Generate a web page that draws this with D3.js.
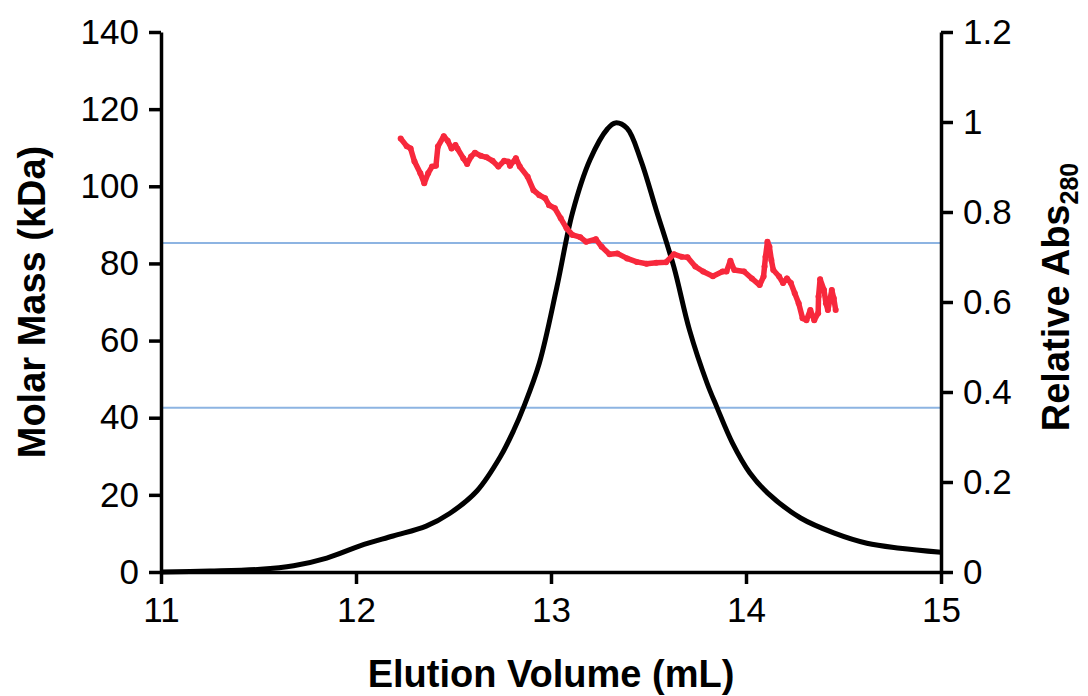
<!DOCTYPE html>
<meta charset="utf-8">
<script src="https://d3js.org/d3.v7.min.js"></script>
<style>
  body { margin: 0; background: #fff; }
  text { font-family: Arial, "Liberation Sans", sans-serif; fill: #000; }
</style>
<div id="chart"></div>
<script>

// elution volume (mL) vs relative Abs280
var absVolume = [11, 11.25, 11.51, 11.68, 11.85, 12.02, 12.19, 12.36, 12.48, 12.62, 12.74, 12.81, 12.86, 12.94,
                 13.03, 13.11, 13.20, 13.29, 13.33, 13.39, 13.46, 13.54, 13.63, 13.71, 13.80, 13.85, 13.93,
                 14.02, 14.11, 14.28, 14.45, 14.62, 14.79, 15.0];
var absValue  = [0, 0.002, 0.006, 0.014, 0.031, 0.058, 0.080, 0.102, 0.13, 0.18, 0.256, 0.316, 0.367, 0.464,
                 0.633, 0.798, 0.916, 0.985, 0.998, 0.986, 0.916, 0.804, 0.678, 0.538, 0.42, 0.367, 0.287,
                 0.22, 0.176, 0.12, 0.087, 0.064, 0.053, 0.044];

// molar mass (kDa) points
var massVolume = [12.229, 12.26, 12.28, 12.30, 12.33, 12.35, 12.37, 12.39, 12.41, 12.42, 12.45, 12.47, 12.49,
                  12.51, 12.52, 12.55, 12.57, 12.59, 12.61, 12.64, 12.67, 12.70, 12.73, 12.76, 12.78, 12.79,
                  12.82, 12.84, 12.88, 12.91, 12.94, 12.97, 12.99, 13.02, 13.05, 13.08, 13.11, 13.15, 13.18,
                  13.23, 13.26, 13.30, 13.34, 13.39, 13.44, 13.49, 13.54, 13.59, 13.63, 13.67, 13.70, 13.74,
                  13.78, 13.83, 13.88, 13.90, 13.92, 13.94, 13.99, 14.03, 14.07, 14.09, 14.095, 14.10, 14.11,
                  14.12, 14.13, 14.14, 14.17, 14.19, 14.21, 14.23, 14.25, 14.27, 14.29, 14.31, 14.33, 14.35,
                  14.37, 14.372, 14.38, 14.40, 14.41, 14.42, 14.43, 14.44, 14.45, 14.46];
var massValue  = [112.4, 110.4, 109.8, 106.4, 103.4, 100.8, 103.4, 105.1, 105.3, 110.3, 113.0, 111.8, 109.8,
                  110.7, 109.8, 107.3, 105.8, 107.7, 108.7, 107.9, 107.5, 106.6, 105.1, 106.6, 106.4, 105.3,
                  107.3, 105.1, 102.5, 99.0, 97.7, 96.9, 95.1, 94.3, 91.7, 89.1, 87.4, 86.8, 85.6,
                  86.3, 84.3, 82.4, 82.6, 81.3, 80.4, 79.9, 80.2, 80.3, 82.4, 81.7, 81.6, 79.2,
                  77.9, 76.7, 77.9, 77.9, 80.7, 78.3, 77.9, 76.1, 74.4, 76.6, 79.2, 81.7, 85.6,
                  84.3, 80.9, 78.3, 76.6, 74.9, 76.1, 74.9, 72.3, 69.7, 65.8, 65.3, 67.9, 65.3,
                  67.1, 71.4, 75.9, 73.1, 69.7, 67.9, 70.5, 73.1, 71.0, 67.9];

// reference masses (kDa) drawn as horizontal lines
var refMasses = [85.3, 42.6];

var xTicks = [11, 12, 13, 14, 15];
var leftTicks = [0, 20, 40, 60, 80, 100, 120, 140];
var rightTicks = [0, 0.2, 0.4, 0.6, 0.8, 1, 1.2];

var W = 1088, H = 696;
var margin = {top: 32, right: 147, bottom: 124, left: 161};
var width = W - margin.left - margin.right,
    height = H - margin.top - margin.bottom;

var svg = d3.select("#chart").append("svg")
    .attr("width", W).attr("height", H)
  .append("g")
    .attr("transform", "translate(" + margin.left + "," + margin.top + ")");

var x = d3.scaleLinear().domain([11, 15]).range([0, width]);
var yL = d3.scaleLinear().domain([0, 140]).range([height, 0]);
var yR = d3.scaleLinear().domain([0, 1.2]).range([height, 0]);

// reference lines
svg.selectAll(".ref")
  .data(refMasses)
  .enter().append("line")
    .attr("x1", 0).attr("x2", width)
    .attr("y1", function(d) { return yL(d); })
    .attr("y2", function(d) { return yL(d); })
    .style("stroke", "#8db4e2")
    .style("stroke-width", 2);

// absorbance trace
var absData = absVolume.map(function(v, i) { return [v, absValue[i]]; });
svg.append("path")
  .datum(absData)
  .attr("fill", "none")
  .attr("stroke", "#000")
  .attr("stroke-width", 5)
  .attr("d", d3.line()
    .curve(d3.curveCatmullRom.alpha(0.5))
    .x(function(d) { return x(d[0]); })
    .y(function(d) { return yR(d[1]); }));

// molar mass points
var massData = massVolume.map(function(v, i) { return [v, massValue[i]]; });
svg.append("path")
  .datum(massData)
  .attr("fill", "none")
  .attr("stroke", "#f7283c")
  .attr("stroke-width", 5.5)
  .attr("stroke-linejoin", "round")
  .attr("d", d3.line()
    .x(function(d) { return x(d[0]); })
    .y(function(d) { return yL(d[1]); }));
svg.selectAll(".dot")
  .data(massData)
  .enter().append("circle")
    .attr("cx", function(d) { return x(d[0]); })
    .attr("cy", function(d) { return yL(d[1]); })
    .attr("r", 3)
    .style("fill", "#f7283c");

// axes
function styleAxis(g) {
  g.select(".domain").attr("stroke-width", 3.5);
  g.selectAll(".tick line").attr("stroke-width", 3.5);
  g.selectAll(".tick text").style("font-size", "35px").style("font-family", "Arial, 'Liberation Sans', sans-serif");
}

svg.append("g")
  .attr("transform", "translate(0," + height + ")")
  .call(d3.axisBottom(x).tickValues(xTicks).tickFormat(d3.format("d")).tickSize(12).tickSizeOuter(0).tickPadding(13))
  .call(styleAxis);

svg.append("g")
  .call(d3.axisLeft(yL).tickValues(leftTicks).tickSize(12).tickSizeOuter(0).tickPadding(10))
  .call(styleAxis);

svg.append("g")
  .attr("transform", "translate(" + width + ",0)")
  .call(d3.axisRight(yR).tickValues(rightTicks).tickFormat(d3.format("~g")).tickSize(12).tickSizeOuter(0).tickPadding(10))
  .call(styleAxis);

// titles
svg.append("text")
  .attr("x", width / 2).attr("y", height + 115)
  .attr("text-anchor", "middle")
  .style("font-size", "38px").style("font-weight", "bold")
  .text("Elution Volume (mL)");

svg.append("text")
  .attr("transform", "translate(" + (-116) + "," + (height / 2) + ") rotate(-90)")
  .attr("text-anchor", "middle")
  .style("font-size", "38px").style("font-weight", "bold")
  .text("Molar Mass (kDa)");

var rt = svg.append("text")
  .attr("transform", "translate(" + (width + 128) + "," + (height / 2 - 5) + ") rotate(-90)")
  .attr("text-anchor", "middle")
  .style("font-size", "38px").style("font-weight", "bold");
rt.append("tspan").text("Relative Abs");
rt.append("tspan").attr("dy", 9).style("font-size", "25px").text("280");

</script>
